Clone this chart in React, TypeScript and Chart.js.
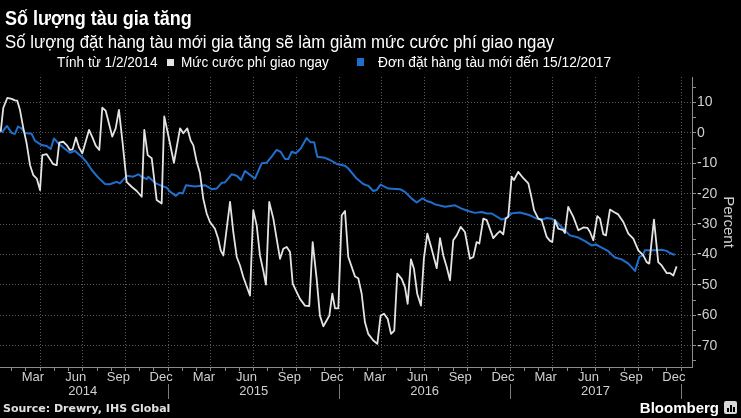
import React, { useEffect, useRef } from "react";
import { Chart, registerables } from "chart.js";

Chart.register(...registerables);

// ---------- labels ----------
const TITLE = "Số lượng tàu gia tăng";
const SUBTITLE = "Số lượng đặt hàng tàu mới gia tăng sẽ làm giảm mức cước phí giao ngay";
const LEGEND_PREFIX = "Tính từ 1/2/2014";
const SERIES_FREIGHT = "Mức cước phí giao ngay";
const SERIES_ORDERS = "Đơn đặt hàng tàu mới đến 15/12/2017";
const SOURCE = "Source: Drewry, IHS Global";
const Y_TITLE = "Percent";

const MONTH_NAMES = ["Jan", "Feb", "Mar", "Apr", "May", "Jun", "Jul", "Aug", "Sep", "Oct", "Nov", "Dec"];
const LABELLED_MONTHS = ["Mar", "Jun", "Sep", "Dec"];
const YEAR_LABELS = ["2014", "2015", "2016", "2017"];
const Y_TICK_VALUES = [-75, -70, -65, -60, -55, -50, -45, -40, -35, -30, -25, -20, -15, -10, -5, 0, 5, 10, 15];

// ---------- data (x = months since 1 Jan 2014, y = percent) ----------
const freightMonths = [
  0.24, 0.42, 0.7, 1.01, 1.24, 1.4, 1.59, 1.83, 2.06, 2.3, 2.53, 2.77, 3.0, 3.16, 3.47, 3.93, 4.17, 4.35, 4.63, 4.87,
  5.1, 5.29, 5.52, 5.74, 5.97, 6.44, 6.7, 6.91, 7.16, 7.37, 7.61, 8.07, 8.31, 8.54, 8.8, 9.08, 9.43, 9.79, 10.14, 10.32,
  10.56, 10.84, 11.19, 11.54, 11.72, 12.0, 12.4, 12.83, 13.06, 13.34, 13.58, 13.76, 14.0, 14.23, 14.46, 14.7, 14.93, 15.28, 15.51, 15.68,
  15.87, 16.34, 16.57, 16.81, 17.04, 17.27, 17.74, 17.97, 18.21, 18.44, 18.67, 18.86, 19.09, 19.38, 19.61, 19.85, 20.08, 20.32, 20.55, 20.74,
  21.02, 21.25, 21.6, 21.9, 22.14, 22.42, 22.65, 22.89, 23.12, 23.31, 23.52, 23.71, 23.94, 24.18, 24.41, 24.64, 25.11, 25.34, 25.58, 25.81,
  26.04, 26.4, 26.68, 26.91, 27.15, 27.41, 27.64, 27.87, 28.08, 28.39, 28.62, 28.81, 29.04, 29.25, 29.48, 29.74, 29.95, 30.19, 30.49, 30.85,
  31.08, 31.31, 31.55, 31.78, 32.01, 32.25, 32.53, 32.83, 33.18, 33.42, 33.65, 33.84, 34.12, 34.36, 34.82, 35.1, 35.29, 35.52, 35.69, 35.87,
  36.11, 36.27, 36.57, 36.93, 37.28, 37.52, 37.68, 37.98, 38.22, 38.57, 38.8, 38.96, 39.15, 39.38, 39.73, 39.85, 40.08, 40.44, 40.79, 41.14,
  41.42, 41.61, 41.84, 42.12, 42.31, 42.54, 42.73, 43.01, 43.29, 43.59, 43.95, 44.3, 44.65, 45.0, 45.35, 45.59, 45.77, 46.1, 46.4, 46.64,
  46.99, 47.22, 47.46, 47.69,
];
const freightPct = [
  0.4, 8.2, 11.5, 11.2, 10.7, 10.6, 7.6, 1.5, -3.4, -10.6, -13.9, -15, -18.8, -7.3, -7, -10.3, -10.6, -3.2, -2.9, -4,
  -5.6, -5.4, -1.5, -4.8, -6.7, 1, -1.7, -4.2, -5.6, 8.3, 7.3, -1.2, 1.5, 7.6, -3.4, -16.1, -17.7, -19.1, -21, 1,
  -7.3, -8.3, -22.1, -23.2, 5.4, -0.7, -9.8, 1.5, -0.1, 1.5, -2.6, -4, -9.5, -13.3, -21.6, -26.5, -29.3, -31.5, -34.8, -38.6,
  -40.3, -22.7, -32.6, -40.8, -43.6, -47.4, -53.5, -25.4, -30.4, -40.3, -45.2, -49.9, -22.7, -28.2, -34.8, -41.4, -38.1, -37.5, -39.2, -49.6,
  -52.4, -54.6, -56.8, -57, -35.9, -48, -60.1, -63.6, -61.7, -60.1, -52.9, -57.7, -57.7, -27.1, -25.7, -40.8, -47.2, -47.8, -52.9, -62.3,
  -66.1, -68.3, -69.4, -60.1, -59.5, -61.2, -66.1, -65, -46.3, -48, -50.7, -56.2, -41.6, -44.7, -52.9, -56.8, -41.2, -33.1, -38.1, -44.5,
  -34.6, -40.3, -44.1, -48.5, -35.3, -33.7, -30.9, -32.6, -41.4, -40.8, -35.9, -36.4, -28.2, -28.7, -34.6, -33.1, -32.3, -33.4, -28.2, -27.6,
  -14.4, -15.5, -12.8, -14.9, -16.6, -21.6, -25.4, -28.2, -28.7, -34.2, -35.5, -35.9, -28.7, -31.5, -32, -32.9, -24.3, -27.6, -32, -31.1,
  -31.2, -32.6, -35.3, -27.4, -28.2, -33.3, -33.7, -25.2, -26, -26.8, -29.3, -33.1, -34.8, -38.6, -40.3, -42.5, -43, -28.5, -42.5, -43.6,
  -46.1, -46.1, -46.9, -43.9,
];

const orderMonths = [
  0.31, 0.68, 1.01, 1.24, 1.45, 1.71, 1.94, 2.41, 2.65, 3.12, 3.47, 3.75, 3.98, 4.28, 4.63, 5.1, 5.45, 5.92, 6.28, 6.63,
  7.09, 7.56, 7.91, 8.38, 8.61, 9.08, 9.55, 9.9, 10.14, 10.49, 10.6, 11.07, 11.54, 11.89, 12.12, 12.54, 12.78, 13.02, 13.25, 13.88,
  14.58, 15.05, 15.4, 15.75, 15.98, 16.45, 16.81, 17.11, 17.39, 17.86, 18.09, 18.25, 18.56, 18.91, 19.26, 19.61, 19.89, 20.2, 20.43, 20.67,
  20.97, 21.3, 21.72, 22.0, 22.25, 22.46, 23.0, 23.36, 23.83, 24.41, 24.64, 25.23, 25.69, 26.04, 26.4, 26.63, 26.91, 27.45, 28.27, 28.62,
  29.09, 29.44, 29.86, 30.14, 30.49, 30.73, 31.43, 32.13, 32.6, 33.06, 33.53, 34.0, 34.36, 34.71, 35.41, 35.76, 36.11, 36.34, 36.69, 37.4,
  37.87, 38.33, 38.57, 38.92, 39.27, 39.73, 40.2, 40.79, 41.26, 41.73, 42.03, 42.43, 42.89, 43.36, 43.83, 44.3, 44.77, 45.07, 45.31, 45.47,
  46.29, 46.64, 46.99, 47.22, 47.46, 47.57,
];
const orderPct = [
  0.1, 2.3, 0, -0.3, 2.1, 1.5, 0, -0.3, -2.6, -4, -4.3, -5.3, -1.8, -3.4, -4.8, -6.5, -5.9, -7.8, -9.7, -12.2,
  -14.7, -16.8, -16.9, -16.1, -16.6, -14.1, -14.4, -13.6, -14.4, -15.2, -14.4, -16.4, -17.4, -18, -19.3, -20.7, -19.7, -19.9, -17.2, -17.6,
  -17.2, -18.5, -18.3, -16.4, -16.3, -13.6, -14.1, -15.5, -12.5, -14.2, -15, -13.3, -10, -9.8, -7.8, -5.6, -6.2, -8.6, -8.6, -6.2,
  -6.7, -5.1, -1.7, -3.1, -3.1, -7.8, -8.2, -8.9, -10.2, -10.8, -11.7, -15, -16.8, -17.4, -19.1, -18.8, -17, -18.3, -18.5, -19.4,
  -21.6, -22.9, -21.5, -22.4, -22.9, -23.5, -24.3, -23.8, -24.9, -25.7, -26.3, -26, -26.5, -26.5, -28.5, -27.9, -26.5, -26.3, -26.2, -27.1,
  -28.2, -28.4, -28, -28.2, -29.3, -31.5, -33.7, -34.4, -35.6, -37, -36.7, -37.7, -38.9, -41, -41.6, -43, -45.4, -40.8, -40.3, -38.6,
  -38.6, -38.4, -38.8, -39.5, -40, -40,
];

// ---------- styling ----------
const X_MIN = 0.19;
const X_MAX = 48.77;
const Y_MIN = -77;
const Y_MAX = 18.4;
const GRID = "#5a5a5a";
const AXIS = "#8c8c8c";
const TICK_TEXT = "#cfcfcf";
const WHITE_LINE = "#e4e4e4";
const BLUE_LINE = "#1f6fcc";
const UI_FONT = "'Liberation Sans', Arial, sans-serif";
const AXIS_FONT = "'Liberation Sans', Arial, sans-serif";

const monthTickValues = Array.from({ length: 48 }, (_, m) => m + 0.5);
const yearTickValues = YEAR_LABELS.map((_, i) => i * 12 + 6);

export default function App() {
  const canvasRef = useRef<HTMLCanvasElement | null>(null);

  useEffect(() => {
    const canvas = canvasRef.current;
    if (!canvas) return;
    const transparent = "rgba(0,0,0,0)";
    const chart = new Chart(canvas, {
      type: "line",
      data: {
        datasets: [
          {
            label: SERIES_FREIGHT,
            data: freightMonths.map((x, i) => ({ x, y: freightPct[i] })),
            borderColor: WHITE_LINE,
            borderWidth: 1.8,
            pointRadius: 0,
            tension: 0,
            borderJoinStyle: "round",
            xAxisID: "x",
            yAxisID: "y",
          },
          {
            label: SERIES_ORDERS,
            data: orderMonths.map((x, i) => ({ x, y: orderPct[i] })),
            borderColor: BLUE_LINE,
            borderWidth: 2,
            pointRadius: 0,
            tension: 0,
            borderJoinStyle: "round",
            xAxisID: "x",
            yAxisID: "y",
          },
        ],
      },
      options: {
        animation: false,
        responsive: false,
        maintainAspectRatio: false,
        devicePixelRatio: 1,
        layout: { padding: { top: 77, left: 0, right: 0, bottom: 16 } },
        plugins: {
          legend: { display: false },
          tooltip: { enabled: false },
          title: { display: false },
        },
        scales: {
          x: {
            type: "linear",
            position: "bottom",
            weight: 0,
            min: X_MIN,
            max: X_MAX,
            bounds: "data",
            afterBuildTicks: (s: any) => {
              s.ticks = monthTickValues.map((v) => ({ value: v }));
            },
            afterFit: (s: any) => {
              s.height = 17;
            },
            grid: {
              offset: true,
              drawOnChartArea: true,
              color: (c: any) => (c.type === "tick" ? (c.index % 3 === 0 ? GRID : transparent) : GRID),
              tickColor: AXIS,
              tickLength: 4,
              lineWidth: 1,
            },
            border: { display: true, color: AXIS, width: 1, dash: [1, 2] },
            ticks: {
              autoSkip: false,
              maxRotation: 0,
              minRotation: 0,
              padding: -1,
              color: TICK_TEXT,
              font: { family: AXIS_FONT, size: 13 },
              callback: (_v: any, i: number) => {
                const name = MONTH_NAMES[i % 12];
                return LABELLED_MONTHS.includes(name) ? name : "";
              },
            },
          },
          x2: {
            type: "linear",
            position: "bottom",
            weight: 1,
            min: X_MIN,
            max: X_MAX,
            bounds: "data",
            afterBuildTicks: (s: any) => {
              s.ticks = yearTickValues.map((v) => ({ value: v }));
            },
            afterFit: (s: any) => {
              s.height = 18;
            },
            grid: {
              offset: true,
              drawOnChartArea: false,
              color: transparent,
              tickColor: "#7a7a7a",
              tickLength: 15,
            },
            border: { display: false },
            ticks: {
              autoSkip: false,
              maxRotation: 0,
              minRotation: 0,
              padding: -15,
              color: TICK_TEXT,
              font: { family: AXIS_FONT, size: 13 },
              callback: (_v: any, i: number) => YEAR_LABELS[i],
            },
          },
          y: {
            type: "linear",
            position: "right",
            min: Y_MIN,
            max: Y_MAX,
            bounds: "data",
            afterBuildTicks: (s: any) => {
              s.ticks = Y_TICK_VALUES.map((v) => ({ value: v }));
            },
            afterFit: (s: any) => {
              s.width = 49;
            },
            grid: {
              color: (c: any) => (c.tick && c.tick.value % 10 === 0 ? GRID : transparent),
              tickColor: AXIS,
              tickLength: 4,
              lineWidth: 1,
            },
            border: { display: true, color: AXIS, width: 1, dash: [1, 2] },
            ticks: {
              autoSkip: false,
              padding: 1,
              color: TICK_TEXT,
              font: { family: AXIS_FONT, size: 14 },
              callback: (v: any) => (Number(v) % 10 === 0 ? String(v) : ""),
            },
            title: {
              display: true,
              text: Y_TITLE,
              color: TICK_TEXT,
              font: { family: AXIS_FONT, size: 15 },
              padding: { top: 4, bottom: 0 },
            },
          },
        },
      } as any,
    });
    return () => chart.destroy();
  }, []);

  const text = (style: React.CSSProperties): React.CSSProperties => ({
    position: "absolute",
    whiteSpace: "nowrap",
    color: "#ffffff",
    fontFamily: UI_FONT,
    transformOrigin: "0 50%",
    ...style,
  });

  return (
    <div
      style={{
        position: "fixed",
        left: 0,
        top: 0,
        width: 741,
        height: 418,
        background: "#000",
        overflow: "hidden",
      }}
    >
      <canvas
        ref={canvasRef}
        width={741}
        height={418}
        style={{ position: "absolute", left: 0, top: 0, width: 741, height: 418 }}
      />
      <div style={text({ left: 5, top: 6, fontSize: 20, fontWeight: 700, lineHeight: "24px", transform: "scaleX(0.9)" })}>
        {TITLE}
      </div>
      <div style={text({ left: 5, top: 30, fontSize: 19, lineHeight: "24px", transform: "scaleX(0.885)" })}>{SUBTITLE}</div>
      <div style={text({ left: 57, top: 54, fontSize: 14, lineHeight: "16px", transform: "scaleX(0.97)" })}>
        {LEGEND_PREFIX}
      </div>
      <div style={{ position: "absolute", left: 167, top: 59, width: 7, height: 7, background: WHITE_LINE }} />
      <div style={text({ left: 181, top: 54, fontSize: 14, lineHeight: "16px", transform: "scaleX(0.97)" })}>
        {SERIES_FREIGHT}
      </div>
      <div style={{ position: "absolute", left: 357, top: 58, width: 7, height: 8, background: BLUE_LINE }} />
      <div style={text({ left: 378, top: 54, fontSize: 14, lineHeight: "16px", transform: "scaleX(0.98)" })}>
        {SERIES_ORDERS}
      </div>
      <div
        style={text({
          left: 3,
          top: 402,
          fontSize: 11,
          fontWeight: 700,
          lineHeight: "14px",
          color: "#e0e0e0",
          fontFamily: "'DejaVu Sans', sans-serif",
        })}
      >
        {SOURCE}
      </div>
      <div
        style={text({
          right: 22,
          top: 400,
          fontSize: 15,
          fontWeight: 700,
          lineHeight: "16px",
          transformOrigin: "100% 50%",
          fontFamily: "'Liberation Sans', Arial, sans-serif",
        })}
      >
        Bloomberg
      </div>
      <div
        style={{
          position: "absolute",
          left: 724,
          top: 401,
          width: 13,
          height: 13,
          background: "#d8d8d8",
          borderRadius: 2,
        }}
      >
        <div style={{ position: "absolute", left: 3, top: 7, width: 2, height: 4, background: "#000" }} />
        <div style={{ position: "absolute", left: 6, top: 4, width: 2, height: 7, background: "#000" }} />
        <div style={{ position: "absolute", left: 9, top: 6, width: 2, height: 5, background: "#000" }} />
      </div>
    </div>
  );
}
